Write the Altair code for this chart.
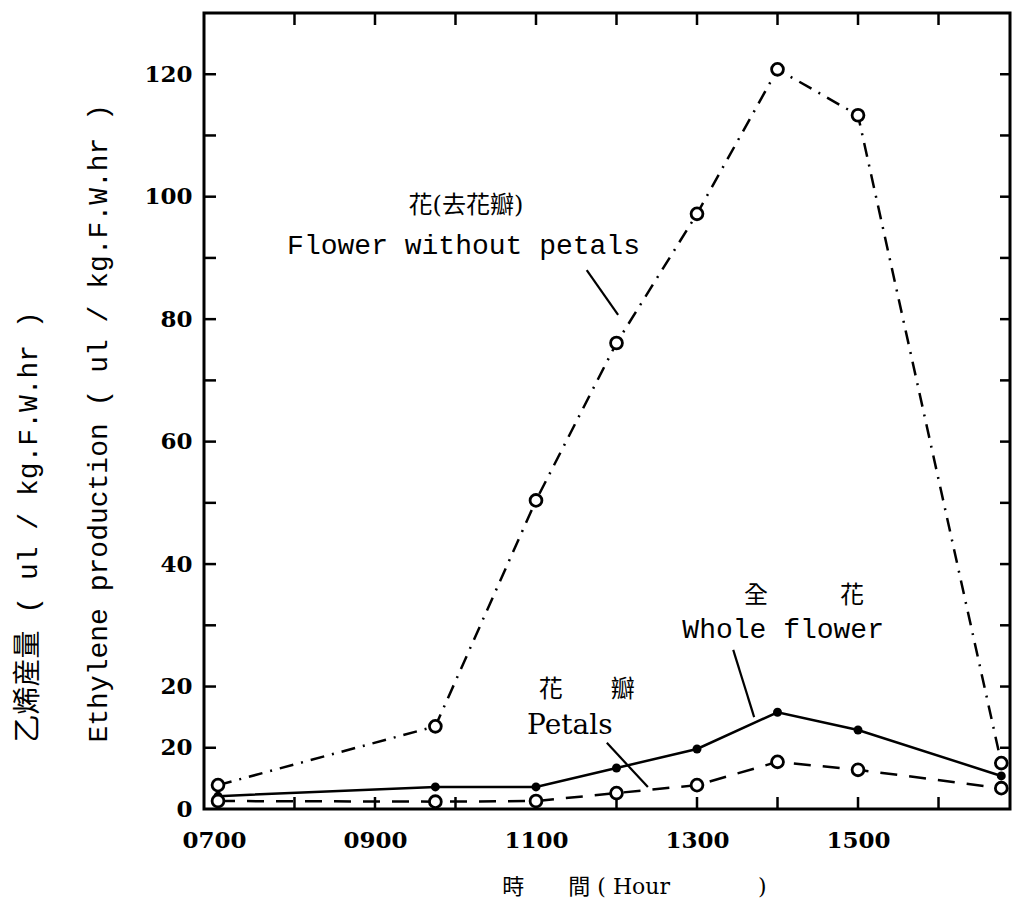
import altair as alt
import pandas as pd

# ---- data ----
hours = [7.05, 9.75, 11.0, 12.0, 13.0, 14.0, 15.0, 16.78]
no_petals = [3.9, 13.5, 50.4, 76.1, 97.2, 120.8, 113.3, 7.5]   # 花(去花瓣) Flower without petals
whole = [2.1, 3.6, 3.6, 6.7, 9.8, 15.8, 12.9, 5.4]              # 全花 Whole flower
petals = [1.3, 1.2, 1.3, 2.6, 3.9, 7.7, 6.4, 3.4]               # 花瓣 Petals

x_label_hours = [7, 9, 11, 13, 15]
x_tick_hours = [8, 9, 10, 11, 12, 13, 14, 15, 16]
y_label_values = [0, 10, 20, 40, 60, 80, 100, 120]
y_tick_values = [10, 20, 30, 40, 50, 60, 70, 80, 90, 100, 110, 120]

ann_text = ["花(去花瓣)", "Flower without petals", "全\u3000\u3000\u3000花", "Whole flower", "花\u3000\u3000瓣", "Petals"]
ann_hour = [10.13, 10.10, 14.33, 14.07, 11.63, 11.42]
ann_value = [98.4, 91.9, 34.8, 29.2, 19.4, 13.6]
ann_size = [24, 28, 24, 28, 24, 28]
ann_font = ["cjk", "mono", "cjk", "mono", "cjk", "serif"]

lead_hour = [11.63, 13.45, 11.88]
lead_value = [88.0, 26.0, 10.8]
lead_hour2 = [12.02, 13.71, 12.39]
lead_value2 = [80.7, 15.0, 3.6]

W, H = 806, 796
SERIF = "DejaVu Serif"
MONO = "Liberation Mono, Noto Sans CJK TC"
CJK = "DejaVu Serif, Noto Sans CJK TC"

df = pd.DataFrame({"hour": hours, "no_petals": no_petals, "whole": whole, "petals": petals})
long = df.melt("hour", var_name="series", value_name="value")

xs = alt.Scale(domain=[6.876, 16.888], nice=False, zero=False)
ys = alt.Scale(domain=[0, 130], nice=False)

x_axis = alt.Axis(
    values=x_label_hours, ticks=False, domain=False, grid=False,
    labelExpr="datum.value < 10 ? '0' + datum.value + '00' : datum.value + '00'",
    labelFont=SERIF, labelFontWeight="bold", labelFontSize=23, labelColor="black",
    labelPadding=20, labelFlush=False,
    title="時\u3000\u3000間 ( Hour\u3000\u3000\u3000\u3000)", titleFont=CJK, titleFontSize=22,
    titleFontWeight="normal", titleColor="black", titlePadding=24,
    titleX=430, titleAlign="center",
)
y_axis = alt.Axis(
    values=y_label_values, ticks=False, domain=False, grid=False,
    labelExpr="datum.value == 10 ? '20' : datum.label",
    labelFont=SERIF, labelFontWeight="bold", labelFontSize=23, labelColor="black",
    labelPadding=12, labelFlush=False,
    title=["乙烯産量 ( ul / kg.F.W.hr )", "Ethylene production ( ul / kg.F.W.hr )"],
    titleFont=MONO, titleFontSize=28, titleFontWeight="normal", titleColor="black",
    titleAngle=270, titleAlign="left", titleBaseline="top",
    titleX=-190, titleY=729, titleLineHeight=70,
)

X = alt.X("hour:Q", scale=xs, axis=x_axis)
Y = alt.Y("value:Q", scale=ys, axis=y_axis)

base = alt.Chart(long)

def series(name):
    return base.transform_filter(alt.datum.series == name)

line_np = series("no_petals").mark_line(color="black", strokeWidth=2.5, strokeDash=[14, 8, 2, 8]).encode(x=X, y=Y)
line_wh = series("whole").mark_line(color="black", strokeWidth=2.5).encode(x=X, y=Y)
line_pe = series("petals").mark_line(color="black", strokeWidth=2.5, strokeDash=[17, 12]).encode(x=X, y=Y)

pt_wh = series("whole").mark_point(shape="circle", filled=True, fill="black", color="black", size=80, opacity=1).encode(x=X, y=Y)
pt_np = series("no_petals").mark_point(shape="circle", filled=True, fill="white", stroke="black", strokeWidth=2.8, size=140, opacity=1).encode(x=X, y=Y)
pt_pe = series("petals").mark_point(shape="circle", filled=True, fill="white", stroke="black", strokeWidth=2.8, size=140, opacity=1).encode(x=X, y=Y)

# inward ticks on all four sides
xt = pd.DataFrame({"hour": x_tick_hours})
yt = pd.DataFrame({"value": y_tick_values})
tick_bottom = alt.Chart(xt).mark_rule(color="black", strokeWidth=2.5).encode(x=X, y=alt.value(H), y2=alt.value(H - 12))
tick_top = alt.Chart(xt).mark_rule(color="black", strokeWidth=2.5).encode(x=X, y=alt.value(0), y2=alt.value(12))
tick_left = alt.Chart(yt).mark_rule(color="black", strokeWidth=2.5).encode(y=Y, x=alt.value(0), x2=alt.value(12))
tick_right = alt.Chart(yt).mark_rule(color="black", strokeWidth=2.5).encode(y=Y, x=alt.value(W), x2=alt.value(W - 10))

ann = pd.DataFrame({"hour": ann_hour, "value": ann_value, "text": ann_text, "fs": ann_size, "ff": ann_font})

def ann_layer(kind, font):
    return alt.Chart(ann).transform_filter(alt.datum.ff == kind).mark_text(
        font=font, color="black", align="center", baseline="middle"
    ).encode(x=X, y=Y, text="text:N", size=alt.Size("fs:Q", scale=None, legend=None))

labels_cjk = ann_layer("cjk", CJK)
labels_mono = ann_layer("mono", MONO)
labels_serif = ann_layer("serif", SERIF)

leads = pd.DataFrame({"hour": lead_hour, "value": lead_value, "hour2": lead_hour2, "value2": lead_value2})
leaders = alt.Chart(leads).mark_rule(color="black", strokeWidth=2.2).encode(
    x=X, y=Y, x2="hour2:Q", y2="value2:Q"
)

chart = alt.layer(
    tick_bottom, tick_top, tick_left, tick_right,
    leaders,
    line_np, line_wh, line_pe,
    pt_wh, pt_np, pt_pe,
    labels_cjk, labels_mono, labels_serif,
).properties(
    width=W, height=H,
    background="white",
    padding={"left": 204, "top": 13, "right": 4, "bottom": 102},
    autosize=alt.AutoSizeParams(type="none"),
).configure_view(
    stroke="black", strokeWidth=3
)

chart.save("out.html", embed_options={"renderer": "svg", "actions": False})
